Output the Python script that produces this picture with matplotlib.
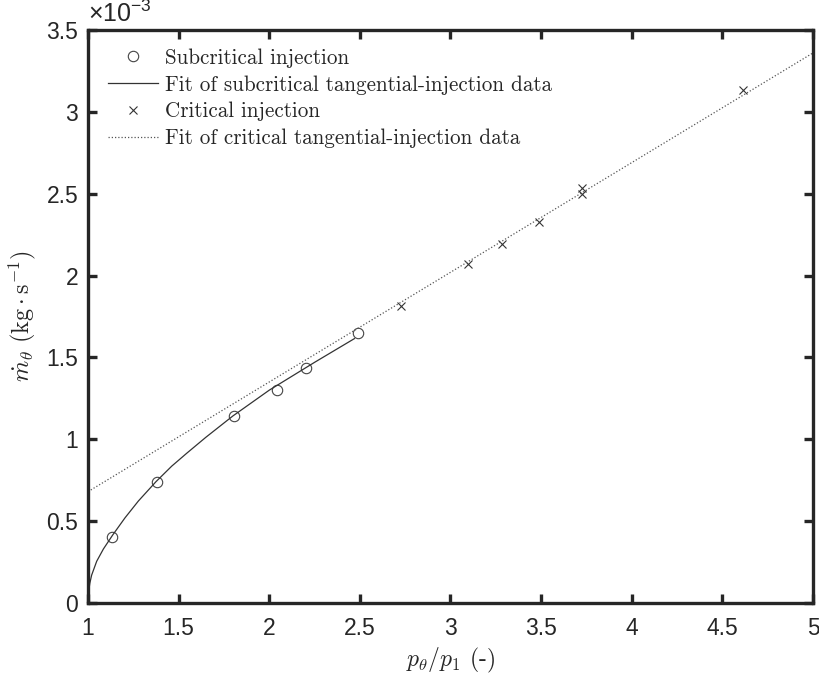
import matplotlib
matplotlib.use("Agg")
import matplotlib.pyplot as plt
from matplotlib.ticker import MultipleLocator, FuncFormatter

# values (mass flow in kg/s)
sub_x = [1.134, 1.379, 1.807, 2.043, 2.204, 2.491]
sub_y = [0.401e-3, 0.737e-3, 1.142e-3, 1.301e-3, 1.434e-3, 1.648e-3]

crit_x = [2.725, 3.095, 3.282, 3.487, 3.724, 3.724, 4.615]
crit_y = [1.815e-3, 2.071e-3, 2.193e-3, 2.329e-3, 2.497e-3, 2.533e-3, 3.133e-3]

# fitted curves
fit_sub_x = [1.0, 1.003, 1.01, 1.02, 1.048, 1.085, 1.136, 1.204, 1.278, 1.375,
             1.462, 1.545, 1.65, 1.8, 2.0, 2.25, 2.47]
fit_sub_y = [0.0, 0.065e-3, 0.12e-3, 0.17e-3, 0.255e-3, 0.33e-3, 0.415e-3, 0.52e-3,
             0.623e-3, 0.741e-3, 0.836e-3, 0.915e-3, 1.012e-3, 1.143e-3, 1.3e-3,
             1.47e-3, 1.615e-3]

fit_crit_x = [1.0, 5.0]
fit_crit_y = [0.680e-3, 3.36e-3]

plt.rcParams['font.family'] = 'Liberation Sans'
plt.rcParams['mathtext.fontset'] = 'custom'
plt.rcParams['mathtext.rm'] = 'Liberation Sans'
plt.rcParams['mathtext.it'] = 'Liberation Sans:italic'
plt.rcParams['axes.unicode_minus'] = False

dark = '#262626'

fig = plt.figure(figsize=(8.2, 6.77), dpi=100)
ax = fig.add_axes([88/820, 74/677, 725/820, 573/677])

ax.plot(sub_x, sub_y, linestyle='none', marker='o', ms=7.5, mfc='none',
        mec='#444444', mew=0.8, label='Subcritical injection')
ax.plot(fit_sub_x, fit_sub_y, color='#333333', lw=0.9,
        label='Fit of subcritical tangential-injection data')
ax.plot(crit_x, crit_y, linestyle='none', marker='x', ms=6, color='#333333',
        mew=0.8, label='Critical injection')
ax.plot(fit_crit_x, fit_crit_y, color='#555555', lw=0.9, linestyle=(0, (1, 1.6)),
        label='Fit of critical tangential-injection data')

ax.set_xlim(1, 5)
ax.set_ylim(0, 3.5e-3)
ax.xaxis.set_major_locator(MultipleLocator(0.5))
ax.yaxis.set_major_locator(MultipleLocator(0.5e-3))
ax.xaxis.set_major_formatter(FuncFormatter(lambda v, p: '%g' % v))
ax.yaxis.set_major_formatter(FuncFormatter(lambda v, p: '%g' % round(v * 1e3, 3)))
ax.text(0.0, 1.006, r'$\times10^{-3}$', transform=ax.transAxes, fontsize=18,
        color=dark, ha='left', va='bottom')

for s in ax.spines.values():
    s.set_linewidth(2.4)
    s.set_color(dark)
ax.tick_params(direction='in', length=6.5, width=2.4, top=True, right=True,
               labelsize=16.5, colors=dark)
ax.tick_params(axis='x', pad=10)
ax.tick_params(axis='y', pad=7)

ax.set_xlabel(r'$p_\theta/p_1$ (-)', family='cmr10', math_fontfamily='cm',
              fontsize=17, color=dark, labelpad=4)
ax.set_ylabel(r'$\dot{m}_\theta\ (\mathrm{kg}\cdot\mathrm{s}^{-1})$',
              math_fontfamily='cm', fontsize=17.5, color=dark, labelpad=6)

leg = ax.legend(loc='upper left', frameon=False, prop={'family': 'cmr10', 'size': 15.2},
                handlelength=2.4, handletextpad=0.3, labelspacing=0.34,
                borderaxespad=0, borderpad=0, bbox_to_anchor=(0.027, 0.968))
for t in leg.get_texts():
    t.set_color(dark)

fig.savefig('out.png', dpi=100)
